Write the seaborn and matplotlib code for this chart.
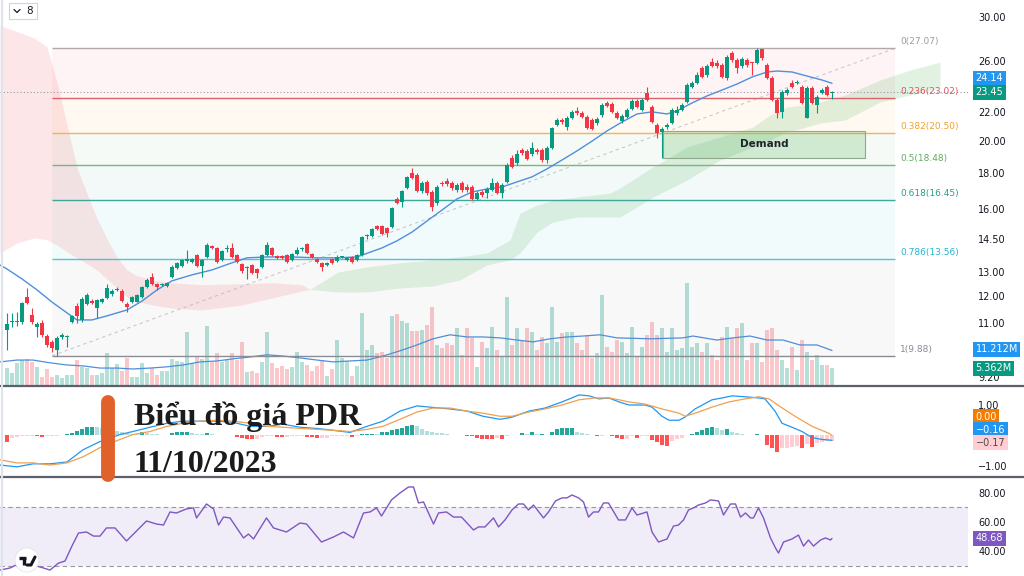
import numpy as np
import matplotlib
matplotlib.use("Agg")
import matplotlib.pyplot as plt
import matplotlib.transforms as mtransforms
from matplotlib.patches import Rectangle, Circle
from matplotlib.lines import Line2D
from matplotlib.ticker import NullLocator, FixedLocator, FixedFormatter
import seaborn as sns

sns.set_theme(style="white")
plt.rcParams["font.family"] = ["DejaVu Sans"]

# ---------------- data ----------------
opens = [
    10.75, 11.02, 11.03, 11.02, 11.98, 11.30, 10.86, 11.00, 10.54, 10.33,
    10.07, 10.52, 10.50, 11.04, 11.62, 11.11, 11.70, 11.82, 11.55, 11.78,
    11.94, 12.10, 12.26, 12.22, 11.70, 11.78, 11.80, 11.98, 12.38, 12.80,
    12.50, 12.45, 12.42, 12.80, 13.18, 13.27, 13.50, 13.45, 13.75, 13.27,
    13.66, 14.16, 14.07, 13.53, 14.00, 14.07, 13.75, 13.36, 13.18, 13.31,
    13.13, 13.22, 13.75, 14.07, 13.70, 13.68, 13.75, 13.53, 13.80, 14.00,
    14.26, 13.80, 13.58, 13.40, 13.31, 13.58, 13.49, 13.64, 13.53, 13.66,
    13.53, 13.75, 14.62, 14.64, 15.12, 15.12, 15.02, 15.07, 16.52, 16.36,
    17.12, 17.99, 17.88, 16.95, 17.47, 16.90, 16.30, 17.35, 17.52, 17.41,
    17.01, 17.41, 17.18, 17.18, 16.52, 16.90, 16.84, 17.01, 17.41, 16.84,
    17.47, 18.90, 18.59, 19.40, 19.34, 19.15, 19.40, 19.40, 18.77, 19.53,
    21.05, 21.40, 20.92, 21.55, 22.05, 21.90, 21.62, 21.40, 21.19, 21.76,
    22.63, 22.55, 21.90, 21.33, 21.62, 22.19, 22.78, 22.12, 23.38, 22.34,
    21.05, 20.58, 20.92, 21.19, 21.90, 22.12, 22.70, 23.85, 24.16, 25.38,
    24.80, 25.88, 25.80, 25.63, 24.56, 26.66, 26.06, 25.55, 26.06, 25.80,
    25.80, 27.00, 25.63, 24.56, 22.85, 21.98, 23.38, 24.16, 24.16, 23.85,
    21.55, 23.77, 22.48, 23.38, 23.85, 23.40,
]
highs = [
    11.37, 11.37, 11.42, 11.78, 12.34, 11.55, 11.04, 11.10, 10.62, 10.40,
    10.55, 10.65, 10.58, 11.28, 11.74, 11.98, 12.15, 11.90, 11.90, 11.94,
    12.48, 12.30, 12.38, 12.30, 11.78, 12.02, 12.10, 12.42, 12.75, 12.95,
    12.55, 12.55, 12.60, 13.30, 13.45, 13.58, 13.98, 13.62, 13.80, 13.58,
    14.28, 14.21, 14.12, 13.98, 14.21, 14.30, 13.80, 13.40, 13.27, 13.36,
    13.18, 13.80, 14.35, 14.12, 13.75, 13.75, 13.80, 13.84, 14.12, 14.10,
    14.30, 13.84, 13.62, 13.44, 13.44, 13.62, 13.75, 13.72, 13.66, 13.70,
    13.80, 14.62, 14.72, 15.02, 15.17, 15.17, 15.07, 16.08, 16.60, 17.00,
    17.80, 18.29, 17.99, 17.52, 17.58, 17.01, 17.29, 17.52, 17.70, 17.52,
    17.41, 17.52, 17.35, 17.29, 16.95, 17.01, 17.18, 17.70, 17.52, 17.41,
    18.59, 19.08, 19.40, 19.53, 19.46, 19.91, 19.53, 19.53, 19.66, 20.92,
    21.55, 21.55, 21.69, 22.12, 22.34, 22.05, 21.76, 21.55, 21.62, 22.63,
    22.78, 22.70, 22.05, 21.83, 22.27, 22.92, 22.92, 23.00, 23.85, 22.48,
    21.19, 20.92, 21.19, 22.27, 22.41, 22.63, 24.16, 24.32, 25.05, 25.55,
    25.71, 26.23, 26.06, 25.80, 26.49, 26.84, 26.23, 26.31, 26.23, 25.88,
    27.07, 27.03, 25.80, 24.72, 23.00, 23.61, 23.77, 24.40, 24.40, 24.00,
    23.93, 23.93, 23.23, 23.77, 24.00, 23.55,
]
lows = [
    10.07, 10.86, 10.88, 10.98, 11.70, 10.97, 10.50, 10.50, 10.17, 10.00,
    9.88, 10.45, 10.17, 11.00, 11.00, 11.04, 11.66, 11.70, 11.18, 11.74,
    11.90, 12.02, 12.22, 11.78, 11.40, 11.74, 11.78, 11.94, 12.34, 12.46,
    12.26, 12.40, 12.38, 12.75, 13.15, 13.22, 13.40, 13.40, 13.22, 12.80,
    13.62, 14.00, 13.40, 13.50, 13.89, 13.62, 13.40, 12.95, 12.71, 12.92,
    12.75, 13.18, 13.70, 13.70, 13.58, 13.58, 13.40, 13.49, 13.75, 13.95,
    13.80, 13.62, 13.40, 13.05, 13.27, 13.36, 13.44, 13.60, 13.49, 13.40,
    13.49, 13.70, 14.50, 14.60, 14.92, 14.68, 14.60, 15.02, 16.25, 16.10,
    17.05, 17.64, 16.90, 16.84, 16.73, 15.88, 16.19, 17.24, 17.24, 17.01,
    16.90, 16.90, 16.90, 16.46, 16.46, 16.62, 16.57, 16.95, 16.79, 16.57,
    17.41, 18.29, 18.47, 19.08, 18.77, 19.02, 19.15, 18.65, 18.59, 19.46,
    20.98, 21.12, 20.71, 21.48, 21.76, 21.55, 20.78, 20.71, 21.05, 21.62,
    22.34, 21.90, 21.48, 21.19, 21.55, 22.12, 22.27, 22.05, 22.78, 21.19,
    20.17, 18.90, 20.78, 21.12, 21.76, 22.05, 22.63, 23.77, 24.08, 24.56,
    24.64, 25.46, 25.38, 24.56, 24.40, 25.88, 24.97, 25.38, 25.46, 24.80,
    25.71, 26.06, 24.48, 22.78, 21.55, 21.55, 23.23, 23.77, 24.08, 22.55,
    21.55, 22.55, 21.90, 23.31, 23.16, 22.90,
]
closes = [
    10.97, 11.05, 11.06, 11.74, 11.74, 11.04, 10.97, 10.58, 10.23, 10.13,
    10.47, 10.56, 10.52, 11.25, 11.25, 11.90, 12.06, 11.76, 11.86, 11.90,
    12.34, 12.22, 12.28, 11.82, 11.59, 11.98, 12.06, 12.38, 12.67, 12.50,
    12.38, 12.47, 12.55, 13.22, 13.40, 13.53, 13.53, 13.58, 13.27, 13.53,
    14.21, 14.07, 13.44, 13.93, 14.03, 13.66, 13.44, 13.05, 13.22, 12.96,
    12.96, 13.75, 14.21, 13.75, 13.62, 13.62, 13.44, 13.80, 13.98, 14.03,
    13.84, 13.66, 13.44, 13.22, 13.40, 13.40, 13.66, 13.66, 13.62, 13.44,
    13.75, 14.58, 14.64, 14.97, 14.97, 14.72, 14.77, 16.03, 16.30, 16.95,
    17.76, 17.70, 16.95, 17.41, 16.84, 16.09, 17.18, 17.33, 17.35, 17.12,
    17.29, 17.01, 17.01, 16.52, 16.84, 16.73, 17.07, 17.41, 16.84, 17.29,
    18.47, 18.35, 19.15, 19.21, 18.83, 19.53, 19.27, 18.77, 19.53, 20.85,
    21.40, 21.26, 21.55, 21.98, 21.90, 21.62, 20.85, 20.78, 21.48, 22.48,
    22.41, 21.98, 21.55, 21.69, 22.12, 22.78, 22.34, 22.85, 22.85, 21.26,
    20.51, 20.78, 21.05, 22.12, 22.12, 22.48, 24.00, 24.16, 24.80, 24.64,
    25.55, 25.55, 25.55, 24.64, 26.31, 26.06, 25.38, 26.14, 25.63, 25.77,
    26.92, 26.23, 24.56, 22.85, 21.90, 23.46, 23.61, 23.85, 24.24, 22.63,
    23.77, 22.63, 23.08, 23.61, 23.23, 23.45,
]
volumes_m = [
    5.5, 3.9, 7.2, 8.1, 8.5, 7.5, 5.9, 2.6, 5.2, 2.6,
    3.3, 2.3, 3.3, 3.3, 8.1, 5.9, 5.5, 3.3, 3.3, 3.9,
    10.4, 5.5, 6.8, 4.6, 8.8, 2.6, 2.6, 7.2, 3.9, 5.5,
    3.3, 4.6, 4.6, 8.5, 7.8, 7.5, 17.2, 7.2, 9.1, 8.5,
    19.2, 7.5, 10.4, 7.5, 8.5, 10.4, 8.1, 14.0, 4.2, 4.6,
    3.9, 7.5, 17.2, 7.2, 5.5, 6.2, 5.2, 5.9, 10.7, 7.5,
    6.5, 4.6, 6.2, 8.1, 2.9, 5.2, 14.6, 8.8, 7.8, 2.9,
    6.2, 23.4, 11.4, 13.0, 10.4, 10.7, 8.8, 22.4, 23.1, 20.8,
    20.2, 17.6, 17.6, 17.9, 19.5, 25.4, 13.0, 12.0, 13.7, 13.0,
    18.5, 9.8, 18.5, 15.3, 5.9, 14.0, 12.0, 18.9, 11.4, 9.1,
    28.6, 13.0, 18.5, 14.6, 18.5, 17.2, 11.4, 15.6, 13.7, 25.4,
    14.0, 16.9, 17.2, 17.2, 13.7, 11.4, 16.3, 8.8, 10.4, 29.2,
    12.4, 10.7, 14.6, 14.0, 10.4, 18.9, 9.1, 12.4, 16.3, 20.5,
    16.3, 18.5, 10.7, 18.5, 11.4, 12.0, 33.2, 12.4, 13.7, 10.7,
    13.7, 9.8, 8.1, 15.6, 18.9, 15.3, 18.5, 20.2, 8.1, 13.7,
    13.7, 7.5, 17.9, 18.5, 11.4, 8.1, 5.5, 12.4, 4.9, 14.6,
    10.7, 8.1, 9.8, 6.5, 6.5, 5.362,
]
macd_hist = [
    -0.22, -0.07, -0.05, -0.03, -0.02, -0.02, -0.03, -0.04, -0.03, -0.02,
    -0.01, 0.02, 0.05, 0.08, 0.15, 0.22, 0.27, 0.29, 0.27, 0.25,
    0.22, 0.18, 0.14, 0.10, 0.08, 0.06, 0.05, 0.10, 0.08, 0.05,
    0.04, 0.03, 0.03, 0.08, 0.10, 0.12, 0.13, 0.08, 0.06, 0.05,
    0.09, 0.05, 0.03, 0.02, 0.01, 0.01, -0.05, -0.08, -0.10, -0.12,
    -0.10, -0.04, -0.02, -0.02, -0.05, -0.06, -0.06, -0.03, -0.02, -0.02,
    -0.05, -0.06, -0.07, -0.07, -0.07, -0.03, -0.02, -0.02, -0.01, -0.06,
    -0.02, 0.04, 0.05, 0.06, 0.05, 0.10, 0.12, 0.17, 0.20, 0.25,
    0.30, 0.33, 0.30, 0.22, 0.16, 0.12, 0.09, 0.07, 0.05, 0.03,
    0.02, 0.01, -0.01, -0.02, -0.08, -0.10, -0.12, -0.13, -0.08, -0.10,
    -0.03, 0.01, 0.03, 0.08, 0.04, 0.13, 0.04, 0.04, 0.02, 0.12,
    0.22, 0.24, 0.24, 0.24, 0.13, 0.08, 0.04, 0.02, -0.03, -0.01,
    0.02, -0.03, -0.07, -0.11, -0.11, -0.03, -0.07, -0.03, -0.01, -0.14,
    -0.22, -0.31, -0.34, -0.18, -0.11, -0.07, 0.02, 0.04, 0.11, 0.19,
    0.24, 0.27, 0.24, 0.19, 0.22, 0.11, 0.08, 0.04, 0.02, 0.01,
    0.04, 0.00, -0.31, -0.42, -0.53, -0.42, -0.40, -0.37, -0.33, -0.40,
    -0.29, -0.37, -0.26, -0.20, -0.17, -0.17,
]

# 20-period moving average of price (sampled)
ma_idx = [-1.4, 0, 3, 6, 9, 12, 14, 17, 20, 24, 27, 30, 33, 37, 41, 45, 48, 52, 57, 62,
          66, 70, 75, 78, 81, 84, 87, 90, 93, 96, 99, 102, 105, 108, 111, 114, 117, 120, 123, 126,
          129, 132, 134, 137, 140, 143, 146, 149, 152, 154, 157, 160, 163, 165]
ma_val = [13.30, 13.13, 12.71, 12.26, 11.78, 11.37, 11.11, 11.11, 11.26, 11.48,
          11.82, 12.26, 12.63, 12.88, 13.09, 13.40, 13.62, 13.66, 13.66, 13.62,
          13.62, 13.66, 14.07, 14.40, 14.82, 15.37, 15.93, 16.52, 16.90, 17.07,
          17.18, 17.47, 17.76, 18.23, 18.77, 19.34, 19.97, 20.65, 21.26, 21.83,
          21.98, 21.83, 22.05, 22.63, 23.16, 23.61, 24.08, 24.64, 25.05, 25.13,
          25.05, 24.72, 24.40, 24.14]

# volume moving average (millions, sampled)
vma_idx = [-1.4, 2, 5.2, 8.6, 12, 15.2, 18.6, 22, 25.2, 28.6,
           32, 35.2, 38.6, 42, 45.2, 48.6, 52, 55.2, 58.6, 62,
           65.2, 68.6, 72, 75.2, 78.6, 82, 85.2, 88.6, 92, 95.2,
           98.6, 102, 105.2, 108.6, 112, 115.2, 118.6, 122, 128.6, 135.2,
           137.2, 142, 145.2, 148.6, 152, 155.2, 158.6, 162, 165]
vma_val = [7.5, 8.1, 8.1, 7.2, 6.5, 6.2, 5.5, 5.5, 5.2, 5.5,
           5.9, 6.5, 7.5, 7.8, 8.5, 9.1, 9.8, 9.4, 8.8, 8.1,
           7.5, 7.8, 8.1, 9.4, 11.1, 13.0, 15.0, 16.3, 15.6, 15.6,
           15.3, 14.6, 14.0, 15.0, 15.6, 15.9, 16.3, 15.3, 15.0, 15.3,
           15.9, 14.6, 15.3, 15.9, 14.6, 14.6, 13.0, 13.0, 11.212]

# MACD line and signal line (sampled)
macd_idx = [-1.4, 2, 5.2, 8.6, 12, 15.2, 18.6, 22.6, 25.2, 28.6,
            32, 35.2, 38.6, 42, 45.2, 48.6, 52, 55.2, 58.6, 62,
            65.2, 68.6, 72, 75.2, 78.6, 82, 84.6, 88.6, 92, 95.2,
            98.6, 101, 104.4, 107.6, 111, 114.4, 116.4, 118.4, 120.4, 122.4,
            124.4, 127.6, 129, 131, 132.4, 134.4, 135.6, 137.6, 141, 143,
            145, 147.6, 150.4, 151.6, 153.6, 155, 157, 159, 161, 163, 165]
macd_val = [-0.97, -1.03, -0.93, -0.93, -0.87, -0.47, -0.20, 0.03, 0.13, 0.27,
            0.40, 0.47, 0.47, 0.47, 0.43, 0.30, 0.30, 0.37, 0.27, 0.23,
            0.17, 0.10, 0.30, 0.47, 0.80, 0.97, 0.93, 0.87, 0.80, 0.63,
            0.53, 0.60, 0.80, 0.90, 1.10, 1.33, 1.30, 1.20, 1.23, 1.10,
            1.00, 1.00, 0.93, 0.63, 0.50, 0.50, 0.60, 0.87, 1.17, 1.23,
            1.30, 1.27, 1.23, 1.20, 0.80, 0.40, 0.27, 0.13, -0.07, -0.13, -0.16]
sig_idx = [-1.4, 2, 5.2, 8.6, 12, 15.2, 18.6, 22.6, 25.2, 28.6,
           32, 35.2, 38.6, 42, 45.2, 48.6, 52, 55.2, 58.6, 62,
           65.2, 68.6, 72, 75.2, 78.6, 82, 85.2, 88.6, 92, 95.2,
           98.6, 101, 104.4, 107.6, 111, 114.4, 117.6, 120.4, 122.4, 124.4,
           127.6, 131, 134.4, 135.6, 137.6, 141, 144.4, 147.6, 150.4, 152.4,
           154.4, 157.6, 161, 164.4, 165]
sig_val = [-0.80, -0.90, -0.90, -0.97, -0.90, -0.70, -0.40, -0.13, 0.03, 0.13,
           0.30, 0.40, 0.47, 0.50, 0.47, 0.40, 0.30, 0.27, 0.23, 0.20,
           0.17, 0.13, 0.20, 0.30, 0.53, 0.77, 0.90, 0.90, 0.80, 0.73,
           0.63, 0.63, 0.77, 0.87, 1.00, 1.17, 1.23, 1.23, 1.17, 1.10,
           1.03, 0.87, 0.73, 0.63, 0.73, 0.93, 1.10, 1.20, 1.27, 1.20,
           0.97, 0.63, 0.30, 0.07, 0.00]

# RSI (sampled)
rsi_idx = [-1.4, 0.6, 2.6, 5.3, 7.3, 8.6, 10.3, 11.6, 12.9, 14.3,
           15.9, 17.3, 18.6, 19.9, 21.6, 23.9, 25.3, 27.9, 29.9, 31.3,
           32.6, 33.9, 35.9, 37.3, 37.9, 39.9, 41.3, 42.3, 43.3, 44.6,
           47.3, 48.3, 49.3, 51.9, 53.3, 55.9, 58.6, 59.9, 62.9, 65.3,
           67.3, 69.3, 71.3, 72.6, 73.9, 74.9, 76.9, 78.6, 80.3, 81.3,
           82.3, 83.3, 85.3, 86.3, 87.9, 89.3, 90.9, 93.3, 94.3, 95.6,
           97.3, 98.3, 99.6, 101, 102.3, 103.3, 104.3, 105.3, 107.3, 108.3,
           109.7, 111, 112, 113, 114.3, 115.3, 116.3, 117.3, 118.3, 119.3,
           120.3, 122.3, 123.7, 125, 126, 128, 129, 130.3, 132, 133.3,
           134.3, 135.3, 136.3, 137.3, 138.3, 139.7, 140.7, 142.3, 143.3, 144.7,
           145.7, 146.7, 147.7, 148.7, 149.3, 150.3, 151.3, 152.7, 153.7, 154.3,
           155.3, 157, 158.3, 159.3, 160.3, 161.3, 162.7, 163.7, 164.7, 165]
rsi_val = [26.9, 28.3, 31.7, 30.3, 28.3, 26.9, 31.7, 33.1, 42.8, 52.4,
           53.1, 50.3, 50.3, 55.9, 55.9, 46.9, 51.7, 60.7, 58.6, 57.9,
           66.9, 66.2, 69.0, 69.7, 62.8, 72.4, 69.0, 57.9, 63.4, 62.8,
           49.0, 51.7, 48.3, 62.8, 55.9, 53.1, 59.3, 58.6, 46.2, 49.7,
           53.1, 49.0, 66.2, 66.9, 69.7, 64.1, 75.2, 80.0, 84.1, 84.1,
           73.1, 73.8, 58.6, 66.2, 66.9, 63.4, 63.4, 54.5, 56.6, 56.6,
           62.8, 56.6, 61.4, 68.3, 72.4, 72.4, 68.3, 71.7, 62.8, 66.9,
           74.5, 76.6, 76.6, 78.6, 76.6, 73.8, 63.4, 66.9, 66.9, 73.1,
           73.1, 61.4, 61.4, 69.7, 64.8, 66.9, 53.1, 46.2, 48.3, 57.2,
           57.9, 61.4, 68.3, 69.7, 71.7, 73.1, 75.2, 74.5, 64.8, 72.4,
           72.4, 63.4, 66.2, 62.8, 62.8, 69.7, 62.8, 49.0, 42.1, 38.6,
           46.2, 48.3, 51.0, 43.4, 47.6, 43.4, 47.6, 49.0, 47.6, 48.68]

# Ichimoku cloud edges
red_cloud_idx = [-1.4, 2, 5.5, 8, 10, 12, 14, 16, 18, 20, 22, 24, 26, 29, 33, 39, 47, 53, 59, 60.6]
red_cloud_top = [29.2, 28.6, 28.0, 27.2, 24.2, 21.1, 18.3, 16.8, 15.5, 14.5,
                 13.66, 13.09, 12.84, 12.67, 12.55, 12.47, 12.51, 12.55, 12.47, 12.28]
red_cloud_bot = [13.84, 14.30, 14.54, 14.45, 14.21, 13.89, 13.62, 13.36, 13.09, 12.71,
                 12.34, 11.98, 11.82, 11.67, 11.55, 11.48, 11.67, 11.94, 12.22, 12.28]
green_cloud_idx = [60.6, 66.2, 72, 78.6, 85.2, 90.6, 96, 100.6, 102.6, 106,
                   109.2, 114, 120.6, 122.6, 129.2, 136, 142.6, 149.2, 152.6, 156,
                   159.2, 162.6, 167.6, 174.6, 180.6, 186.6]
green_cloud_top = [12.28, 13.00, 13.22, 13.40, 13.53, 13.66, 13.84, 14.44, 15.77, 16.19,
                   16.46, 16.62, 16.84, 17.12, 18.35, 19.59, 20.24, 20.92, 21.76, 22.34,
                   22.48, 22.70, 23.23, 24.40, 25.21, 25.88]
green_cloud_bot = [12.28, 12.18, 12.18, 12.34, 12.42, 12.67, 13.31, 13.53, 13.84, 14.82,
                   15.32, 15.57, 15.57, 15.57, 16.62, 17.58, 18.77, 19.59, 20.04, 20.58,
                   20.85, 21.19, 21.40, 22.70, 23.23, 23.77]

# Fibonacci retracement
fib_names = ["0", "0.236", "0.382", "0.5", "0.618", "0.786", "1"]
fib_prices = [27.07, 23.02, 20.50, 18.48, 16.45, 13.56, 9.88]
fib_start, fib_end = 9.0, 177.6

# Demand zone
demand_left, demand_right = 131.2, 171.6
demand_low, demand_high = 18.90, 20.64

price_ticks = [9.2, 11, 12, 13, 14.5, 16, 18, 20, 22, 26, 30]
last_price, last_ma = 23.45, 24.14
last_vol, last_vol_ma = 5.362, 11.212
last_signal, last_macd, last_hist = 0.00, -0.16, -0.17
last_rsi = 48.68

title_line1 = "Biểu đồ giá PDR"
title_line2 = "11/10/2023"

# ---------------- layout helpers ----------------
W, H = 1024, 576
def fx(p):
    return p / W
def fy(p):
    return 1 - p / H

UP, DN = "#089981", "#f23645"

fig = plt.figure(figsize=(10.24, 5.76), dpi=100)
fig.patch.set_facecolor("white")

plot_w = 968 / W
x_lo, x_hi = -1.4, 192.2
rect_main = [0, fy(385), plot_w, 385 / H]
ax_vol = fig.add_axes(rect_main, label="volume")
ax = fig.add_axes(rect_main, label="price")
ax_macd = fig.add_axes([0, fy(476), plot_w, (476 - 387) / H], label="macd")
ax_rsi = fig.add_axes([0, 0, plot_w, (576 - 478) / H], label="rsi")
ax_vol.set_zorder(1)
ax.set_zorder(2)
ax.patch.set_visible(False)

for a in (ax_vol, ax, ax_macd, ax_rsi):
    a.set_xlim(x_lo, x_hi)
    for s in a.spines.values():
        s.set_visible(False)
    a.set_xticks([])
    a.grid(False)

# ---------------- volume ----------------
idx = np.arange(len(closes))
o = np.array(opens); h = np.array(highs); l = np.array(lows); c = np.array(closes)
up = c >= o
vcols = [(0.031, 0.600, 0.506, 0.30) if u else (0.949, 0.212, 0.271, 0.28) for u in up]
ax_vol.bar(idx, volumes_m, width=0.72, color=vcols, linewidth=0)
sns.lineplot(x=vma_idx, y=vma_val, ax=ax_vol, color="#4f8fdc", linewidth=0.9,
             estimator=None, sort=False)
ax_vol.set_ylim(0, 125)
ax_vol.set_yticks([])
ax_vol.set_xlabel(""); ax_vol.set_ylabel("")

# ---------------- price pane ----------------
ax.set_yscale("log")
ax.set_ylim(8.976, 31.72)

fib_line_colors = ["#b0a9ab", "#d9646c", "#f2b44c", "#78b87c", "#3fa89a", "#4ec3da", "#8a8c96"]
fib_fill_colors = [None, "#f23645", "#ff9800", "#4caf50", "#089981", "#00bcd4", "#787b86"]
fib_text_colors = ["#9a9ca5", "#e0535f", "#f0a030", "#5fae62", "#2a9d8f", "#26b5cf", "#8a8c96"]
for k in range(1, len(fib_prices)):
    ax.fill_between([fib_start, fib_end], fib_prices[k], fib_prices[k - 1],
                    color=fib_fill_colors[k], alpha=0.05, linewidth=0, zorder=1)

ax.fill_between(red_cloud_idx, red_cloud_bot, red_cloud_top, color="#f23645",
                alpha=0.12, linewidth=0, zorder=1.5)
ax.fill_between(green_cloud_idx, green_cloud_bot, green_cloud_top, color="#4caf50",
                alpha=0.16, linewidth=0, zorder=1.5)

ax.hlines(fib_prices, fib_start, fib_end, colors=fib_line_colors, linewidth=1.0, zorder=3)
for name, p, col in zip(fib_names, fib_prices, fib_text_colors):
    ax.annotate(f"{name}({p:.2f})", xy=(fib_end + 1.0, p), xytext=(0, 1.5),
                textcoords="offset points", ha="left", va="bottom", fontsize=6.5,
                color=col, zorder=7)
ax.plot([fib_start, fib_end], [fib_prices[-1], fib_prices[0]], linestyle=(0, (3, 3)),
        color="#b2b5be", linewidth=0.8, alpha=0.7, zorder=2)

ax.axhline(last_price, color="#9598a1", linestyle=(0, (1, 2)), linewidth=0.8, zorder=3)

ax.add_patch(Rectangle((demand_left, demand_low), demand_right - demand_left,
                       demand_high - demand_low, facecolor=(0.30, 0.69, 0.31, 0.22),
                       edgecolor="#8fa88f", linewidth=0.8, zorder=3.5))
ax.text((demand_left + demand_right) / 2, (demand_low * demand_high) ** 0.5, "Demand",
        ha="center", va="center", fontsize=7.5, fontweight="bold", color="#1e222d", zorder=7)

sns.lineplot(x=ma_idx, y=ma_val, ax=ax, color="#4f8fdc", linewidth=1.0,
             estimator=None, sort=False, zorder=4)

ccols = [UP if u else DN for u in up]
ax.vlines(idx, l, h, colors=ccols, linewidth=0.8, zorder=5)
body_lo = np.minimum(o, c)
body_h = np.maximum(np.abs(c - o), c * 0.004)
ax.bar(idx, body_h, bottom=body_lo, width=0.7, color=ccols, linewidth=0, zorder=6)

ax.yaxis.set_major_locator(FixedLocator(price_ticks))
ax.yaxis.set_major_formatter(FixedFormatter([f"{t:.2f}" for t in price_ticks]))
ax.yaxis.set_minor_locator(NullLocator())
ax.yaxis.tick_right()
ax.tick_params(axis="y", length=0, pad=7.5, labelsize=7, labelcolor="#131722")
ax.set_xlabel(""); ax.set_ylabel("")

# ---------------- MACD pane ----------------
ax_macd.set_ylim(-1.33, 1.59)
hcols = []
prev = 0.0
for hv in macd_hist:
    if hv >= 0:
        hcols.append("#26a69a" if hv >= prev else "#b2dfdb")
    else:
        hcols.append("#ff5252" if hv < prev else "#ffcdd2")
    prev = hv
ax_macd.bar(idx, macd_hist, width=0.72, color=hcols, linewidth=0)
sns.lineplot(x=macd_idx, y=macd_val, ax=ax_macd, color="#2196f3", linewidth=0.9,
             estimator=None, sort=False)
sns.lineplot(x=sig_idx, y=sig_val, ax=ax_macd, color="#f0a050", linewidth=0.9,
             estimator=None, sort=False)
ax_macd.yaxis.tick_right()
ax_macd.set_yticks([1, -1])
ax_macd.set_yticklabels(["1.00", "\u22121.00"])
ax_macd.tick_params(axis="y", length=0, pad=7.5, labelsize=7, labelcolor="#131722")
ax_macd.set_xlabel(""); ax_macd.set_ylabel("")

# ---------------- RSI pane ----------------
ax_rsi.set_ylim(22.8, 90.3)
ax_rsi.axhspan(30, 70, color="#7e57c2", alpha=0.1, linewidth=0)
ax_rsi.axhline(70, color="#9598a1", linestyle=(0, (4, 3)), linewidth=0.8)
ax_rsi.axhline(30, color="#9598a1", linestyle=(0, (4, 3)), linewidth=0.8)
sns.lineplot(x=rsi_idx, y=rsi_val, ax=ax_rsi, color="#7e57c2", linewidth=1.0,
             estimator=None, sort=False)
ax_rsi.yaxis.tick_right()
ax_rsi.set_yticks([80, 60, 40])
ax_rsi.set_yticklabels(["80.00", "60.00", "40.00"])
ax_rsi.tick_params(axis="y", length=0, pad=7.5, labelsize=7, labelcolor="#131722")
ax_rsi.set_xlabel(""); ax_rsi.set_ylabel("")

# ---------------- right-side value tags ----------------
def tag(host, yax, value, text, fc, tc="white", dy=0.0):
    tr = mtransforms.blended_transform_factory(host.transAxes, yax.transData)
    host.annotate(text, xy=(1, value), xycoords=tr, xytext=(5.5, dy),
                  textcoords="offset points", ha="left", va="center", fontsize=7,
                  color=tc, zorder=10, annotation_clip=False,
                  bbox=dict(boxstyle="square,pad=0.25", fc=fc, ec="none"))

tag(ax, ax, last_ma, f"{last_ma:.2f}", "#2196f3", dy=3.6)
tag(ax, ax, last_price, f"{last_price:.2f}", UP)
tag(ax, ax_vol, last_vol_ma, f"{last_vol_ma:.3f}M", "#2196f3", dy=1.0)
tag(ax, ax_vol, last_vol, f"{last_vol:.3f}M", UP)
tag(ax_macd, ax_macd, last_signal, f"{last_signal:.2f}", "#f57c00", dy=13.6)
tag(ax_macd, ax_macd, last_macd, f"\u2212{abs(last_macd):.2f}", "#2196f3", dy=7.8)
tag(ax_macd, ax_macd, last_hist, f"\u2212{abs(last_hist):.2f}", "#ffcdd2", tc="#4a4a4a", dy=-1.5)
tag(ax_rsi, ax_rsi, last_rsi, f"{last_rsi:.2f}", "#7e57c2")

# ---------------- pane separators & decorations ----------------
for yy in (386, 477):
    fig.add_artist(Line2D([0, 1], [fy(yy), fy(yy)], color="#5d606b", linewidth=1.6, zorder=20))
fig.add_artist(Line2D([fx(1.5), fx(1.5)], [0, 1], color="#dfe3ec", linewidth=1.5, zorder=20))

# top-left control box
fig.add_artist(Rectangle((fx(9), fy(19)), fx(28), 16 / H, transform=fig.transFigure,
                         facecolor="white", edgecolor="#d1d4dc", linewidth=0.8, zorder=21))
fig.add_artist(Line2D([fx(14), fx(17), fx(20)], [fy(9.5), fy(12.5), fy(9.5)],
                      color="#131722", linewidth=0.9, zorder=22))
fig.text(fx(26), fy(11), "8", fontsize=7.5, color="#131722", va="center", ha="left", zorder=22)

# logo badge bottom-left
fig.add_artist(Circle((0.27, 0.16), 0.12, transform=fig.dpi_scale_trans,
                      facecolor="white", edgecolor="#e3e5ea", linewidth=0.6, zorder=21))
fig.add_artist(Line2D([0.19, 0.26], [0.185, 0.185], transform=fig.dpi_scale_trans,
                      color="#131722", linewidth=2.4, solid_capstyle="butt", zorder=22))
fig.add_artist(Line2D([0.235, 0.235], [0.185, 0.11], transform=fig.dpi_scale_trans,
                      color="#131722", linewidth=2.4, solid_capstyle="butt", zorder=22))
fig.add_artist(Line2D([0.27, 0.31, 0.35], [0.11, 0.11, 0.19], transform=fig.dpi_scale_trans,
                      color="#131722", linewidth=2.2, zorder=22))

# title overlay
fig.add_artist(Line2D([fx(107.5), fx(107.5)], [fy(402), fy(475)], color="#e0622a",
                      linewidth=10, solid_capstyle="round", zorder=22))
fig.text(fx(134), fy(425), title_line1, fontsize=23, fontweight="bold",
         family=["Liberation Serif", "DejaVu Serif"], color="#1b1b1b", va="baseline",
         ha="left", zorder=23)
fig.text(fx(134), fy(472), title_line2, fontsize=23, fontweight="bold",
         family=["Liberation Serif", "DejaVu Serif"], color="#1b1b1b", va="baseline",
         ha="left", zorder=23)

fig.savefig("out.png", dpi=100, facecolor="white")
